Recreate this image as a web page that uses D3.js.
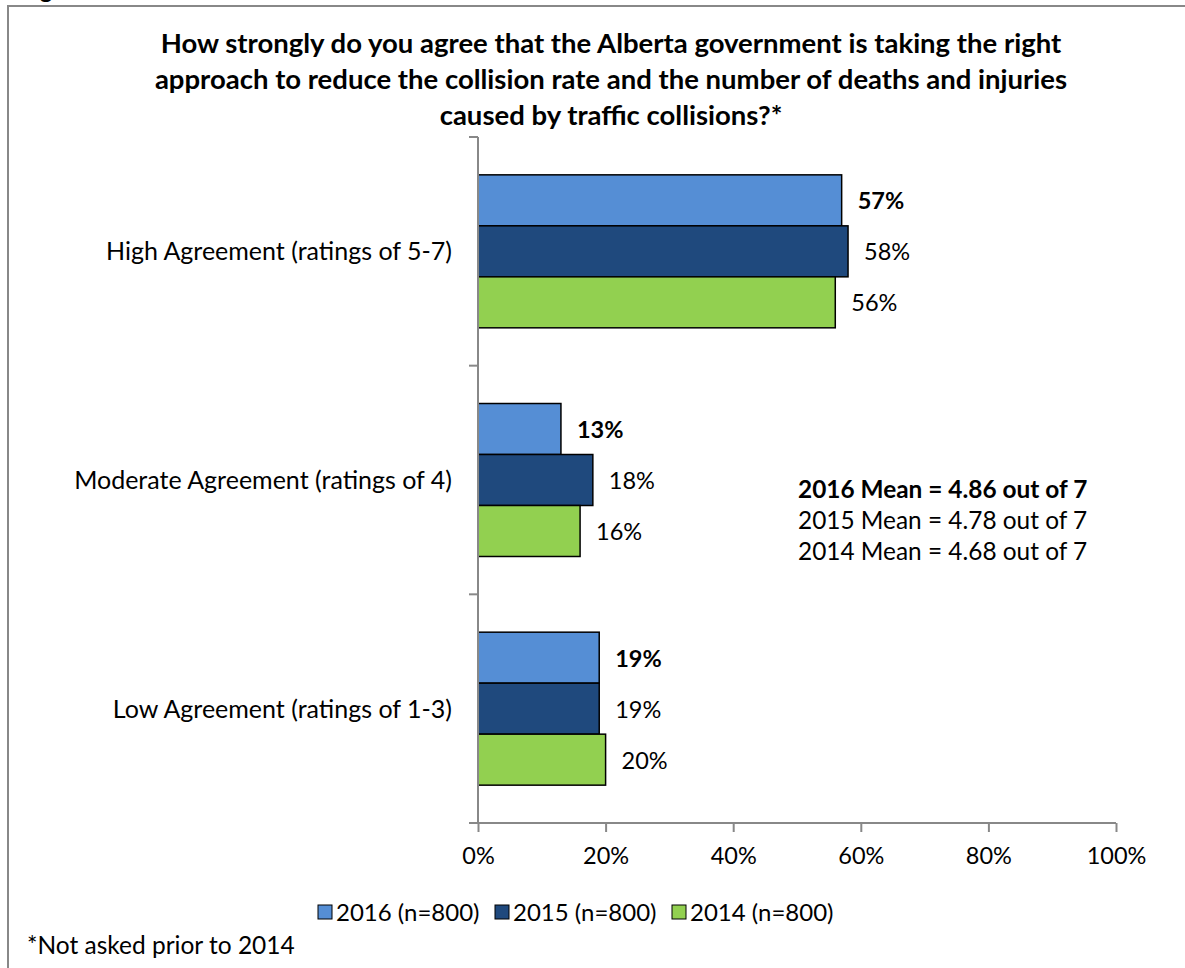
<!DOCTYPE html>
<html>
<head>
<meta charset="utf-8">
<script src="https://cdn.jsdelivr.net/npm/d3@7"></script>
<style>
  html, body { margin: 0; padding: 0; background: #fff; }
  svg { display: block; font-family: Lato, "Open Sans", sans-serif; }
</style>
</head>
<body>
<svg id="chart" width="1185" height="968"></svg>
<script>
// Survey responses, percent of respondents
const categories = [
  "High Agreement (ratings of 5-7)",
  "Moderate Agreement (ratings of 4)",
  "Low Agreement (ratings of 1-3)"
];
const seriesNames = ["2016 (n=800)", "2015 (n=800)", "2014 (n=800)"];
const values2016 = [57, 13, 19];
const values2015 = [58, 18, 19];
const values2014 = [56, 16, 20];
const xTicks = [0, 20, 40, 60, 80, 100];
const meanLines = [
  "2016 Mean = 4.86 out of 7",
  "2015 Mean = 4.78 out of 7",
  "2014 Mean = 4.68 out of 7"
];
const titleLines = [
  "How strongly do you agree that the Alberta government is taking the right",
  "approach to reduce the collision rate and the number of deaths and injuries",
  "caused by traffic collisions?*"
];
const footnote = "*Not asked prior to 2014";

const colors = ["#558ED5", "#1F497D", "#92D050"];
const series = [values2016, values2015, values2014];

const svg = d3.select("#chart");

// Outer frame (continues past the right and bottom edges)
svg.append("path")
  .attr("d", "M8,975 V6 H1195")
  .attr("fill", "none")
  .attr("stroke", "#888")
  .attr("stroke-width", 2);

svg.append("text")
  .attr("x", 20).attr("y", -2)
  .attr("font-size", 24).attr("font-weight", "bold")
  .text("Figure");

// Title
svg.append("g").selectAll("text")
  .data(titleLines).join("text")
  .attr("x", 611)
  .attr("y", (d, i) => 53 + i * 36)
  .attr("text-anchor", "middle")
  .attr("font-size", 27.5)
  .attr("font-weight", "bold")
  .attr("fill", "#000")
  .text(d => d);

const plot = { left: 478, right: 1116, top: 137, bottom: 823 };

const x = d3.scaleLinear().domain([0, 100]).range([plot.left, plot.right]);
const y = d3.scaleBand().domain(categories).range([plot.top, plot.bottom])
  .paddingInner(0.331).paddingOuter(0.1655);
const ySub = d3.scaleBand().domain(seriesNames).range([0, y.bandwidth()]);

// Bars and value labels
const groups = svg.append("g").selectAll("g")
  .data(categories).join("g")
  .attr("transform", c => `translate(0,${y(c)})`);

groups.each(function (c, ci) {
  const g = d3.select(this);
  seriesNames.forEach((s, si) => {
    const v = series[si][ci];
    g.append("rect")
      .attr("x", x(0))
      .attr("y", ySub(s))
      .attr("width", x(v) - x(0))
      .attr("height", ySub.bandwidth())
      .attr("fill", colors[si])
      .attr("stroke", "#000")
      .attr("stroke-width", 1.5);
    g.append("text")
      .attr("x", x(v) + 16)
      .attr("y", ySub(s) + ySub.bandwidth() / 2 + 9)
      .attr("font-size", 23.5)
      .attr("font-weight", si === 0 ? "bold" : "normal")
      .text(v + "%");
  });
});

// Axes
const axisColor = "#888";
const xAxis = svg.append("g")
  .attr("transform", `translate(0,${plot.bottom})`)
  .call(d3.axisBottom(x).tickValues(xTicks).tickSize(9).tickFormat(d => d + "%"));
xAxis.select(".domain").remove();
xAxis.append("line")
  .attr("x1", plot.left - 9).attr("x2", plot.right)
  .attr("stroke", axisColor).attr("stroke-width", 2);
xAxis.selectAll(".tick line").attr("stroke", axisColor).attr("stroke-width", 2);
xAxis.selectAll(".tick text")
  .attr("y", 41).attr("dy", null)
  .attr("font-size", 23.5).attr("font-family", "Lato, sans-serif").attr("fill", "#000");

const yAxis = svg.append("g");
yAxis.append("line")
  .attr("x1", plot.left).attr("x2", plot.left)
  .attr("y1", plot.top).attr("y2", plot.bottom)
  .attr("stroke", axisColor).attr("stroke-width", 2);
const yBounds = d3.range(categories.length + 1).map(i => plot.top + i * y.step());
yAxis.selectAll("line.tick").data(yBounds).join("line")
  .attr("class", "tick")
  .attr("x1", plot.left - 9).attr("x2", plot.left)
  .attr("y1", d => d).attr("y2", d => d)
  .attr("stroke", axisColor).attr("stroke-width", 2);
yAxis.selectAll("text").data(categories).join("text")
  .attr("x", 452)
  .attr("y", c => y(c) + y.bandwidth() / 2 + 9)
  .attr("text-anchor", "end")
  .attr("font-size", 25)
  .text(c => c);

// Mean scores
svg.append("g").selectAll("text")
  .data(meanLines).join("text")
  .attr("x", 798)
  .attr("y", (d, i) => 498 + i * 31)
  .attr("font-size", 24.4)
  .attr("font-weight", (d, i) => i === 0 ? "bold" : "normal")
  .text(d => d);

// Legend
const legendX = [318, 495, 672];
const legend = svg.append("g").selectAll("g")
  .data(seriesNames).join("g")
  .attr("transform", (d, i) => `translate(${legendX[i]},912)`);
legend.append("rect")
  .attr("x", 0).attr("y", -7).attr("width", 14).attr("height", 14)
  .attr("fill", (d, i) => colors[i]).attr("stroke", "#000").attr("stroke-width", 1);
legend.append("text")
  .attr("x", 18).attr("y", 8.5)
  .attr("font-size", 24)
  .text(d => d);

// Footnote
svg.append("text")
  .attr("x", 27).attr("y", 954)
  .attr("font-size", 24.5)
  .text(footnote);
</script>
</body>
</html>
